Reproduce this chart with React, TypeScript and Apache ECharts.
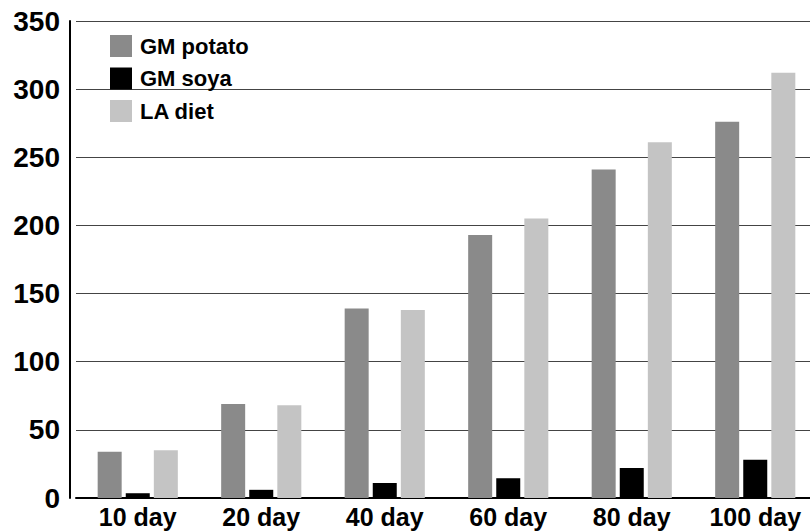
import React, { useEffect, useRef } from "react";
import * as echarts from "echarts";

const categories = ["10 day", "20 day", "40 day", "60 day", "80 day", "100 day"];
const gmPotato = [34, 69, 139, 193, 241, 276];
const gmSoya = [3.5, 6, 11, 14.5, 22, 28];
const laDiet = [35, 68, 138, 205, 261, 312];
const yTicks = { min: 0, max: 350, interval: 50 };

export default function App() {
  const ref = useRef<HTMLDivElement>(null);
  useEffect(() => {
    if (!ref.current) return;
    const chart = echarts.init(ref.current, null, { renderer: "svg" });
    const font = "'Liberation Sans', Arial, sans-serif";
    chart.setOption({
      animation: false,
      backgroundColor: "#ffffff",
      grid: { left: 76, top: 21, bottom: 33, width: 741, containLabel: false, outerBoundsMode: "none" },
      legend: {
        orient: "vertical",
        left: 105,
        top: 30,
        itemWidth: 22,
        itemHeight: 22,
        itemGap: 10.5,
        icon: "rect",
        textStyle: { fontFamily: font, fontWeight: "bold", fontSize: 22, color: "#000", padding: [0, 0, 0, 3] },
        data: ["GM potato", "GM soya", "LA diet"],
      },
      xAxis: {
        type: "category",
        data: categories,
        axisLine: { show: true, lineStyle: { color: "#000", width: 2 } },
        axisTick: { show: false },
        axisLabel: { interval: 0, hideOverlap: false, fontFamily: font, fontWeight: "bold", fontSize: 25, color: "#000", margin: 6 },
      },
      yAxis: {
        type: "value",
        min: yTicks.min,
        max: yTicks.max,
        interval: yTicks.interval,
        offset: 6,
        axisLine: { show: true, lineStyle: { color: "#000", width: 2 } },
        axisTick: { show: false },
        axisLabel: { fontFamily: font, fontWeight: "bold", fontSize: 28, color: "#000", margin: 10 },
        splitLine: { show: true, lineStyle: { color: "#444", width: 1.2 } },
      },
      series: [
        { name: "GM potato", type: "bar", data: gmPotato, barWidth: 24, barGap: "17%", itemStyle: { color: "#8a8a8a" } },
        { name: "GM soya", type: "bar", data: gmSoya, barWidth: 24, barGap: "17%", itemStyle: { color: "#000000" } },
        { name: "LA diet", type: "bar", data: laDiet, barWidth: 24, barGap: "17%", itemStyle: { color: "#c4c4c4" } },
      ],
    });
    return () => chart.dispose();
  }, []);
  return (
    <div
      ref={ref}
      style={{ position: "fixed", left: 0, top: 0, width: 810, height: 531, background: "#fff" }}
    />
  );
}
